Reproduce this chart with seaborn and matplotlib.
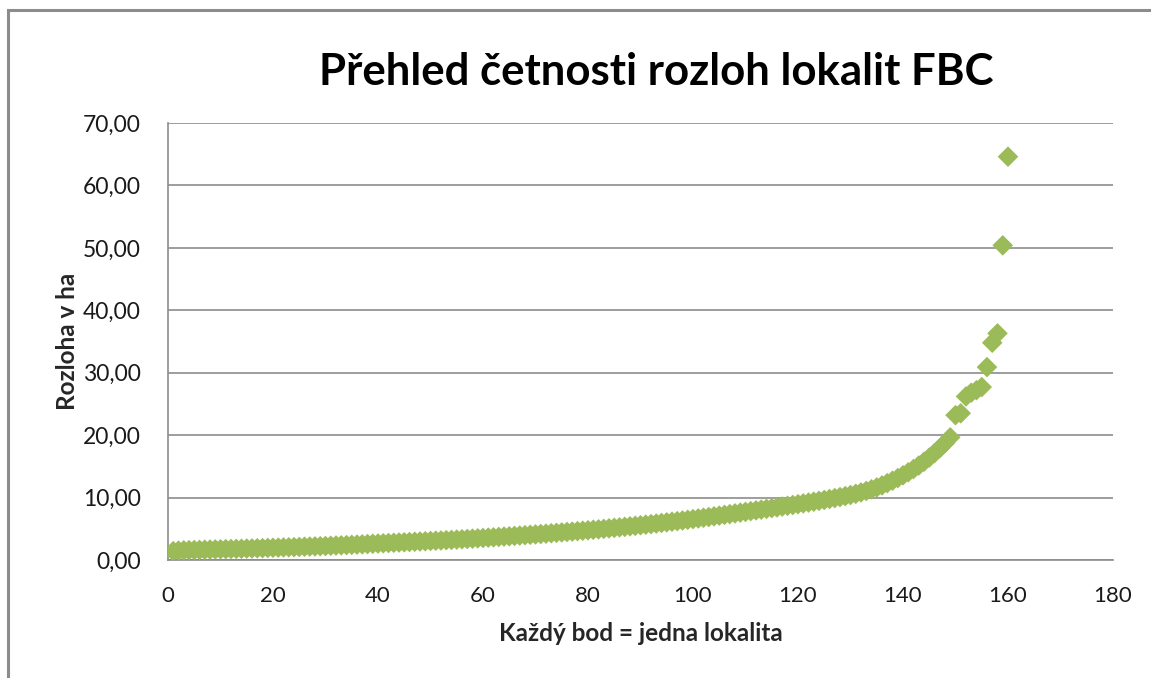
import matplotlib
matplotlib.use("Agg")
import matplotlib.pyplot as plt
from matplotlib.patches import Rectangle
from matplotlib.ticker import FuncFormatter
import pandas as pd
import seaborn as sns

# Areas of the FBC sites in hectares, sorted ascending (one point per site)
areas_ha = [
    1.42, 1.50, 1.55, 1.58, 1.60, 1.62, 1.65, 1.67, 1.70, 1.72,
    1.74, 1.76, 1.78, 1.80, 1.83, 1.85, 1.88, 1.90, 1.93, 1.96,
    1.98, 2.01, 2.04, 2.06, 2.09, 2.12, 2.15, 2.18, 2.21, 2.24,
    2.28, 2.32, 2.35, 2.39, 2.43, 2.47, 2.51, 2.55, 2.60, 2.64,
    2.68, 2.72, 2.76, 2.80, 2.84, 2.88, 2.92, 2.96, 3.00, 3.05,
    3.09, 3.13, 3.18, 3.22, 3.27, 3.32, 3.37, 3.42, 3.47, 3.53,
    3.58, 3.63, 3.69, 3.75, 3.80, 3.86, 3.92, 3.98, 4.04, 4.10,
    4.16, 4.22, 4.29, 4.35, 4.42, 4.49, 4.55, 4.62, 4.69, 4.76,
    4.84, 4.91, 4.99, 5.07, 5.15, 5.23, 5.31, 5.40, 5.48, 5.57,
    5.66, 5.75, 5.84, 5.94, 6.03, 6.13, 6.23, 6.33, 6.44, 6.55,
    6.66, 6.77, 6.88, 7.00, 7.11, 7.23, 7.35, 7.47, 7.59, 7.71,
    7.83, 7.95, 8.07, 8.19, 8.31, 8.43, 8.56, 8.68, 8.81, 8.94,
    9.07, 9.20, 9.34, 9.48, 9.62, 9.77, 9.92, 10.08, 10.24, 10.41,
    10.60, 10.82, 11.06, 11.33, 11.62, 11.95, 12.31, 12.70, 13.12, 13.57,
    14.05, 14.57, 15.13, 15.74, 16.40, 17.12, 17.90, 18.74, 19.65,
    23.20, 23.50, 26.20, 26.80, 27.20, 27.70, 30.90, 34.80, 36.30,
    50.40, 64.60,
]
site_order = list(range(1, len(areas_ha) + 1))

title_text = "Přehled četnosti rozloh lokalit FBC"
x_label = "Každý bod = jedna lokalita"
y_label = "Rozloha v ha"
x_ticks = [0, 20, 40, 60, 80, 100, 120, 140, 160, 180]
y_ticks = [0, 10, 20, 30, 40, 50, 60, 70]

df = pd.DataFrame({"poradi": site_order, "rozloha": areas_ha})

sns.set_theme(style="white")
plt.rcParams["font.family"] = ["Lato", "DejaVu Sans"]

fig = plt.figure(figsize=(11.51, 6.78), dpi=100)
ax = fig.add_axes([168 / 1151, 1 - 560 / 678, (1113 - 168) / 1151, (560 - 123) / 678])

sns.scatterplot(data=df, x="poradi", y="rozloha", marker="D", s=110,
                color="#9BBB59", edgecolor="none", linewidth=0, ax=ax, zorder=3)

ax.set_xlim(0, 180)
ax.set_ylim(0, 70)
ax.set_xticks(x_ticks)
ax.set_yticks(y_ticks)
ax.yaxis.set_major_formatter(FuncFormatter(lambda v, _: f"{v:.2f}".replace(".", ",")))
ax.grid(axis="y", color="#8C8C8C", linewidth=1.2)
ax.grid(axis="x", visible=False)
ax.set_axisbelow(True)

for side in ("top", "right"):
    ax.spines[side].set_visible(False)
for side in ("left", "bottom"):
    ax.spines[side].set_color("#8C8C8C")
    ax.spines[side].set_linewidth(1.2)

ax.tick_params(axis="both", length=0, colors="#1a1a1a")
ax.tick_params(axis="y", pad=19.5, labelsize=16.5)
ax.tick_params(axis="x", pad=19, labelsize=16)

ax.set_xlabel(x_label, fontsize=17.5, fontweight="bold", labelpad=11)
ax.set_ylabel(y_label, fontsize=17.5, fontweight="bold", labelpad=3)

fig.text(656 / 1151, 1 - 72 / 678, title_text, ha="center", va="center",
         fontsize=31.5, fontweight="bold", color="#000000")

# outer chart frame
fig.add_artist(Rectangle((8 / 1151, -0.2), 1.2, 1 - 10 / 678 + 0.2,
                         transform=fig.transFigure, fill=False,
                         edgecolor="#8C8C8C", linewidth=2.2))

fig.savefig("out.png", dpi=100, facecolor="white")
